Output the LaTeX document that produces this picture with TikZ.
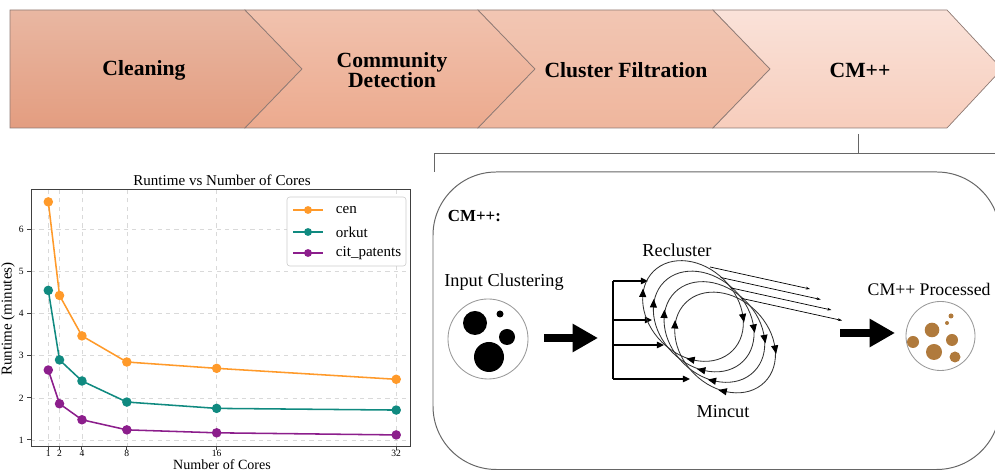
\documentclass[tikz,border=0pt]{standalone}
\usepackage{fontspec}
\setmainfont{Liberation Serif}
\usetikzlibrary{arrows.meta, decorations.markings, calc}

\definecolor{chevAt}{HTML}{E9B7A2}
\definecolor{chevAb}{HTML}{E39D80}
\definecolor{chevBt}{HTML}{F1C2AE}
\definecolor{chevBb}{HTML}{ECAA8E}
\definecolor{chevCt}{HTML}{F2C6B3}
\definecolor{chevCb}{HTML}{EFB69D}
\definecolor{chevDt}{HTML}{FAE2D9}
\definecolor{chevDb}{HTML}{F7CDBC}
\definecolor{chevline}{HTML}{8E7A74}
\definecolor{cenc}{HTML}{FF9A2A}
\definecolor{orkutc}{HTML}{108A80}
\definecolor{citc}{HTML}{8C1E8C}
\definecolor{dotc}{HTML}{B07A3C}

\tikzset{ringtip/.tip = {Triangle[reversed, length = 6pt, width = 5pt]}}

\begin{document}
\begin{tikzpicture}[x = 0.025cm, y = 0.025cm,
    chevron/.style = {draw = chevline, line width = 0.5pt},
    stage/.style = {font = \fontsize{15.4}{14.5}\selectfont\bfseries, align = center},
    label/.style = {font = \fontsize{13}{15}\selectfont},
    frame/.style = {draw = black!60, line width = 0.7pt},
    fatarrow/.style = {line width = 5pt, -{Triangle[length = 18pt, width = 19pt]}},
    feed/.style = {line width = 1pt, -{Triangle[length = 5pt, width = 4.5pt]}},
    leak/.style = {line width = 0.5pt, -{Stealth[length = 3pt, width = 2pt]}},
    ring/.style = {draw = black!80, line width = 0.6pt, postaction = {decorate, decoration = {markings,
        mark = at position 0.125 with {\arrow[black]{ringtip}},
        mark = at position 0.59 with {\arrow[black]{ringtip}},
        mark = at position 0.87 with {\arrow[black]{ringtip}}}}},
    grid/.style = {draw = black!15, dashed, line width = 0.4pt},
    axis/.style = {draw = black!75, line width = 0.7pt},
    ticklabel/.style = {font = \fontsize{6.8}{7}\selectfont, inner sep = 0.5pt},
    chartlabel/.style = {font = \fontsize{10.7}{12}\selectfont},
    series/.style = {draw = #1, line width = 1.1pt, mark = *, mark size = 2.8pt, mark options = {fill = #1, draw = #1}}]

    \useasboundingbox (0, 0) rectangle (995, 471);

    % pipeline
    \draw[chevron, top color = chevAt, bottom color = chevAb] (10, 461) -- (245, 461) -- (302, 402) -- (245, 343) -- (10, 343) -- cycle;
    \draw[chevron, top color = chevBt, bottom color = chevBb] (245, 461) -- (478, 461) -- (535, 402) -- (478, 343) -- (245, 343) -- (302, 402) -- cycle;
    \draw[chevron, top color = chevCt, bottom color = chevCb] (478, 461) -- (713, 461) -- (770, 402) -- (713, 343) -- (478, 343) -- (535, 402) -- cycle;
    \draw[chevron, top color = chevDt, bottom color = chevDb] (713, 461) -- (947, 461) -- (1002, 402) -- (947, 343) -- (713, 343) -- (770, 402) -- cycle;
    \node[stage] (clean) at (144, 401) {Cleaning};
    \node[stage] (commdet) at (392, 401) {Community\\Detection};
    \node[stage] (filter) at (626, 401) {Cluster Filtration};
    \node[stage] (cmpp) at (860, 401) {CM++};

    % bracket down to the CM++ panel
    \coordinate (cmdown) at (858, 337);
    \coordinate (cmjoin) at (858, 317);
    \coordinate (brleft) at (434, 317);
    \coordinate (brright) at (1000, 317);
    \coordinate (brtick) at (434, 299);
    \draw[frame] (cmdown) -- (cmjoin);
    \draw[frame] (brleft) -- (brright);
    \draw[frame] (brleft) -- (brtick);

    % CM++ panel
    \draw[frame, rounded corners = 45] (433, 299) rectangle (1000, 1.5);
    \node[font = \fontsize{12}{14}\selectfont\bfseries, anchor = west] (cmhead) at (443, 255) {CM++:};
    \node[label] (inlabel) at (504, 189) {Input Clustering};
    \node[circle, draw = black!40, line width = 0.6pt, minimum size = 80 * 0.7113pt, inner sep = 0pt] (incirc) at (488, 132) {};
    \fill (489, 114) circle (15);
    \fill (475, 148) circle (12);
    \fill (507, 134) circle (8);
    \fill (500, 157) circle (3.5);
    \coordinate (fatAs) at (544, 133);
    \coordinate (fatAe) at (598, 133);
    \draw[fatarrow] (fatAs) -- (fatAe);

    % feeding bracket
    \coordinate (fb1) at (613, 190);
    \coordinate (fb2) at (613, 151);
    \coordinate (fb3) at (613, 126);
    \coordinate (fb4) at (613, 92);
    \draw[line width = 1pt] (fb1) -- (fb4);
    \draw[feed] (fb1) -- (648, 190);
    \draw[feed] (fb2) -- (652, 151);
    \draw[feed] (fb3) -- (664, 126);
    \draw[feed] (fb4) -- (690, 92);

    % recluster / mincut rings
    \foreach \k in {0, 1, 2, 3} {
        \coordinate (ring\k) at (693 + 10.7 * \k, 160 - 10.5 * \k);
        \draw[ring] (ring\k) ellipse [x radius = 56, y radius = 44, rotate = -45];
        \coordinate (leakA\k) at ($(ring\k) + (17, 44)$);
        \draw[leak] (leakA\k) -- ++(100, -22);
    }
    \node[label] (recl) at (677, 221) {Recluster};
    \node[label] (mincut) at (723, 59) {Mincut};

    % output
    \coordinate (fatBs) at (840, 138);
    \coordinate (fatBe) at (895, 138);
    \draw[fatarrow] (fatBs) -- (fatBe);
    \node[font = \fontsize{12.6}{15}\selectfont, anchor = west, inner sep = 1pt] (outlabel) at (866, 182) {CM++ Processed};
    \node[circle, draw = black!40, line width = 0.6pt, minimum size = 69 * 0.7113pt, inner sep = 0pt] (outcirc) at (940.5, 135) {};
    \fill[dotc] (932, 141) circle (7.3);
    \fill[dotc] (934, 119) circle (8);
    \fill[dotc] (913, 129) circle (6);
    \fill[dotc] (952, 131) circle (6);
    \fill[dotc] (955, 114) circle (5.5);
    \fill[dotc] (951, 155) circle (2.5);
    \fill[dotc] (947, 148) circle (2);

    % runtime chart
    \node[chartlabel] (title) at (222, 291) {Runtime vs Number of Cores};
    \node[chartlabel, rotate = 90] (ylab) at (8, 152) {Runtime (minutes)};
    \node[font = \fontsize{10}{11}\selectfont, anchor = base, inner sep = 0pt] (xlab) at (222, 1.5) {Number of Cores};
    \begin{scope}[shift = {(37.08, -11.13)}, x = 0.2805cm, y = 1.05325cm]
        \foreach \c in {1, 2, 4, 8, 16, 32} {
            \draw[grid] (\c, 0.834) -- (\c, 6.934);
            \draw[axis] (\c, 0.834) -- ++(0, -2.5pt);
            \node[ticklabel, anchor = north] (xt\c) at (\c, 0.79) {\c};
        }
        \foreach \v in {1, ..., 6} {
            \draw[grid] (-0.542, \v) -- (33.24, \v);
            \draw[axis] (-0.542, \v) -- ++(-2.5pt, 0);
            \node[ticklabel, anchor = east] (yt\v) at (-1.1, \v) {\v};
        }
        \draw[axis] (-0.542, 0.834) rectangle (33.24, 6.934);
        \draw[series = cenc] plot coordinates {(1, 6.65) (2, 4.43) (4, 3.47) (8, 2.85) (16, 2.70) (32, 2.44)};
        \draw[series = orkutc] plot coordinates {(1, 4.55) (2, 2.90) (4, 2.40) (8, 1.90) (16, 1.75) (32, 1.71)};
        \draw[series = citc] plot coordinates {(1, 2.66) (2, 1.86) (4, 1.48) (8, 1.24) (16, 1.17) (32, 1.12)};
    \end{scope}

    % legend
    \draw[draw = black!20, fill = white, rounded corners = 2pt] (287, 274) rectangle (406, 205);
    \foreach \name/\col/\y in {cen/cenc/261, orkut/orkutc/239, cit\_patents/citc/218} {
        \draw[draw = \col, line width = 1.1pt] (293, \y) -- (323, \y);
        \fill[\col] (308, \y) circle (2.8pt);
        \node[chartlabel, anchor = west] at (331, \y) {\name};
    }
\end{tikzpicture}
\end{document}
